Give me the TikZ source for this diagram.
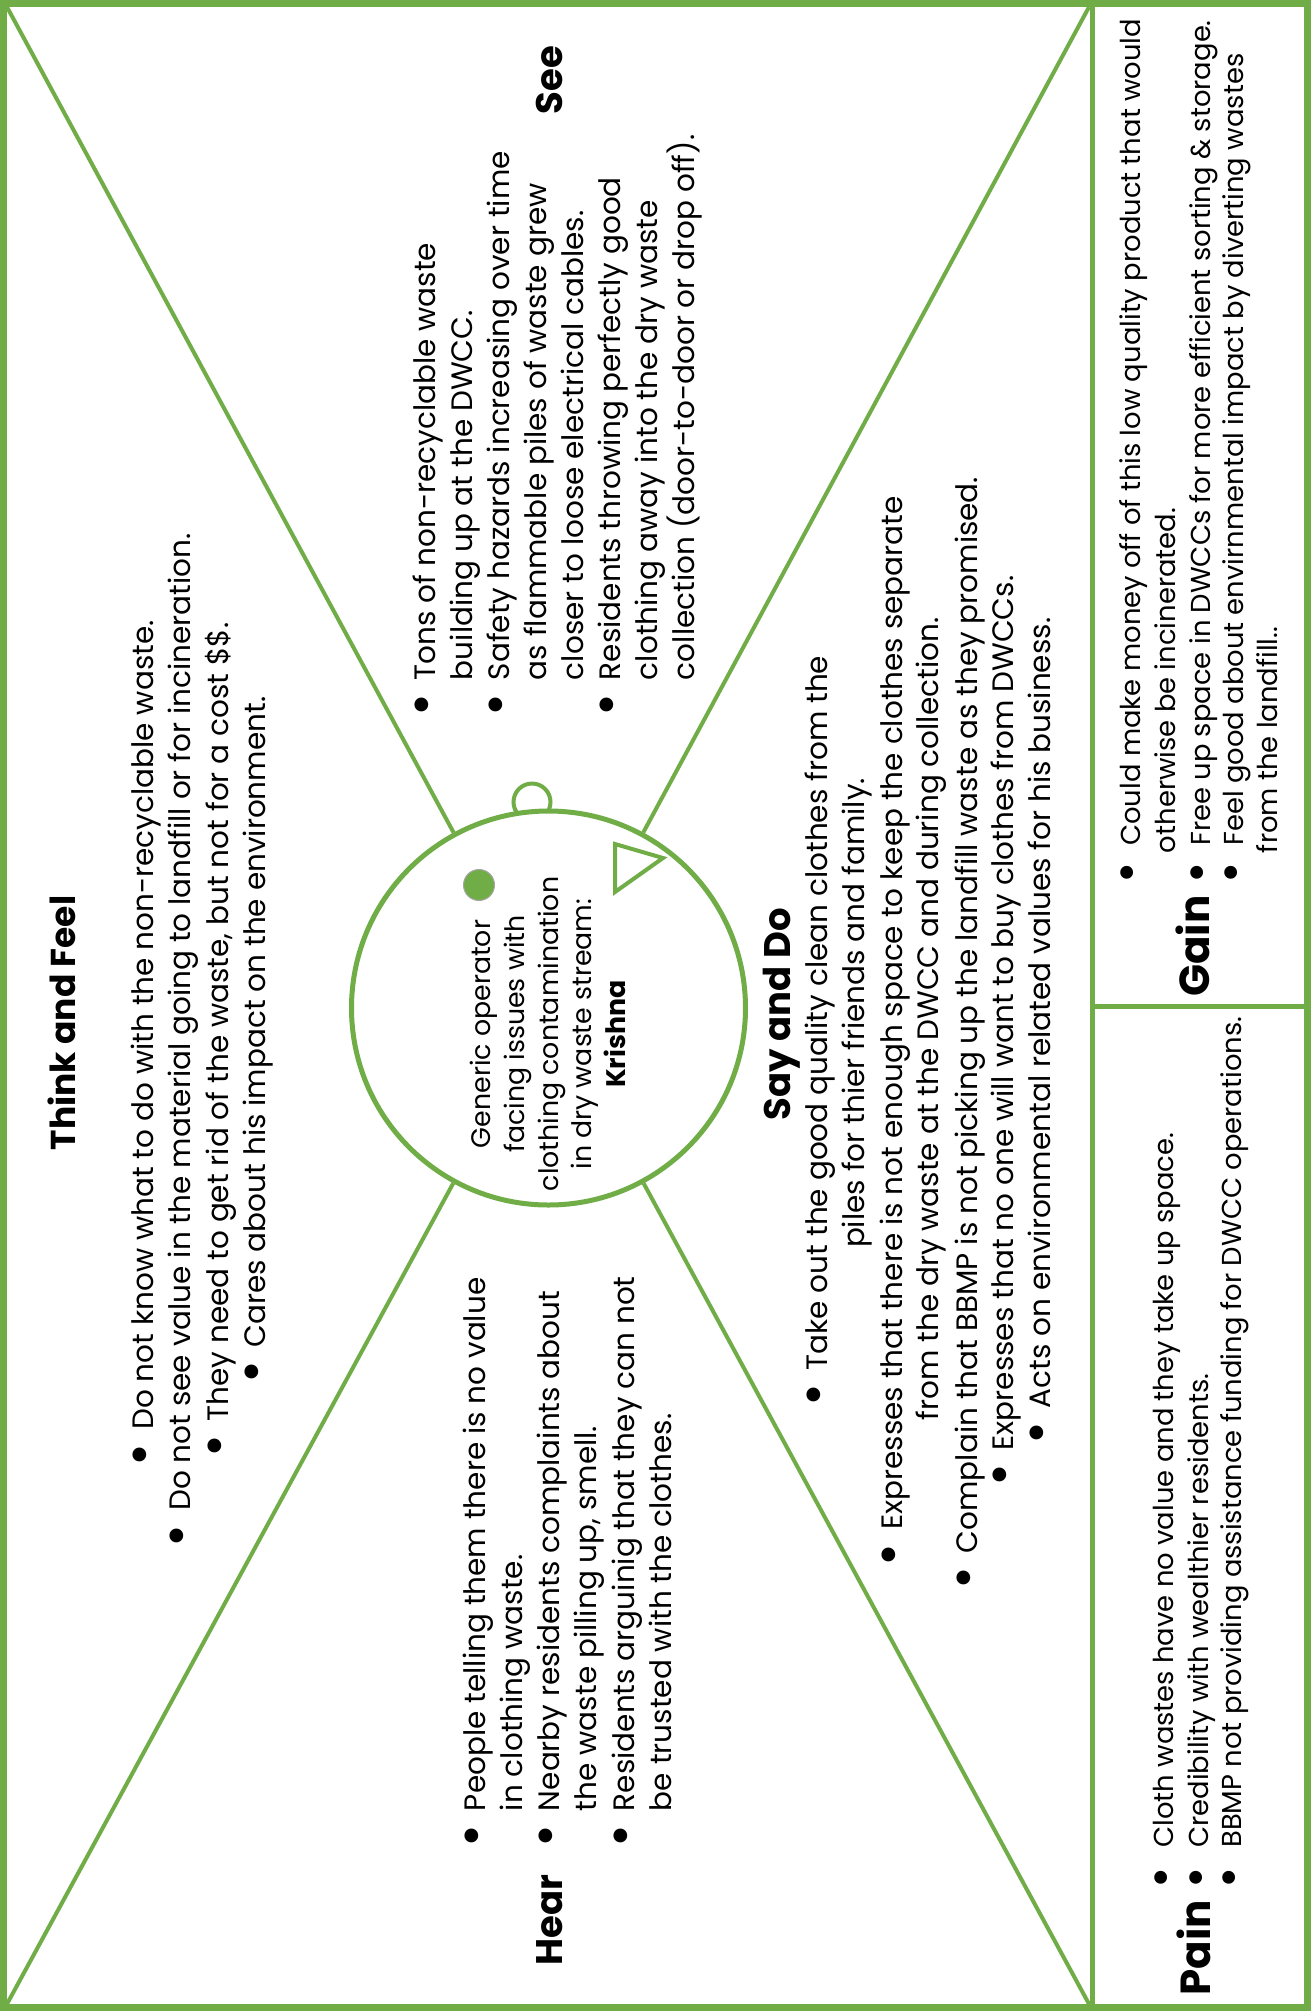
\documentclass[tikz,border=0pt]{standalone}
\usepackage{fontspec}
\setmainfont{Poppins}
\usepackage{graphicx}
\definecolor{eg}{HTML}{70AD47}
\newcommand\bul[1][25pt]{\llap{\makebox[0pt][c]{\raisebox{-0.176em}{\scalebox{1.9}{\textbullet}}}\hspace{#1}}}
\tikzset{
  ln/.style={rotate=90, inner sep=0pt, outer sep=0pt, font=\fontsize{29.5}{35}\selectfont, anchor=base west},
  cl/.style={ln, anchor=base},
  sm/.style={ln, font=\fontsize{27.4}{33}\selectfont},
  ctr/.style={cl, font=\fontsize{26.8}{32}\selectfont},
  hd/.style={rotate=90, inner sep=0pt, outer sep=0pt, anchor=base, font=\fontsize{37}{44}\selectfont\bfseries},
  gp/.style={hd, font=\fontsize{42}{50}\selectfont\bfseries},
  frame/.style={draw=eg, line width=7pt},
  divider/.style={draw=eg, line width=5pt},
  diag/.style={draw=eg, line width=4pt},
}
\begin{document}
\begin{tikzpicture}[x=1pt, y=-1pt]
\useasboundingbox (0,0) rectangle (1311,2011);
\fill[white] (0,0) rectangle (1311,2011);
% corners
\coordinate (tl) at (7,7);
\coordinate (tr) at (1089,7);
\coordinate (bl) at (7,2004);
\coordinate (br) at (1089,2004);
% ear
\node[circle, draw=eg, line width=4pt, minimum size=37pt, inner sep=0pt] (ear) at (532,802) {};
% head
\node[circle, draw=eg, fill=white, line width=5pt, minimum size=394pt, inner sep=0pt] (head) at (548.5,1008) {};
\draw[diag] (tl) -- (head);
\draw[diag] (tr) -- (head);
\draw[diag] (bl) -- (head);
\draw[diag] (br) -- (head);
% nose and eye
\draw[eg, line width=4pt, line join=miter] (615,844) -- (663,858) -- (615,892) -- cycle;
\node[circle, fill=eg, draw=gray!70, line width=1pt, minimum size=31pt, inner sep=0pt] (eye) at (479,885) {};
% frame and dividers
\draw[frame] (3.5,3.5) rectangle (1307.5,2007.5);
\coordinate (dtop) at (1092,0);
\coordinate (dbot) at (1092,2011);
\coordinate (hl) at (1092,1006);
\coordinate (hr) at (1311,1006);
\draw[divider] (dtop) -- (dbot);
\draw[divider] (hl) -- (hr);
% center text
\node[ctr] (c1) at (490,1034) {Generic operator};
\node[ctr] (c2) at (524,1034) {facing issues with};
\node[ctr] (c3) at (558,1034) {clothing contamination};
\node[ctr] (c4) at (591.5,1034) {in dry waste stream:};
\node[ctr, font=\fontsize{26.8}{32}\selectfont\bfseries] (c5) at (625,1034) {Krishna};
% Think and Feel
\node[hd, font=\fontsize{34.5}{42}\selectfont\bfseries] (tf0) at (75,1023) {Think and Feel};
\node[cl] (tf1) at (153,1025) {\bul Do not know what to do with the non-recyclable waste.};
\node[cl] (tf2) at (190,1022) {\bul Do not see value in the material going to landfill or for incineration.};
\node[cl] (tf3) at (228,1022) {\bul They need to get rid of the waste, but not for a cost \$\$.};
\node[cl] (tf4) at (265,1022) {\bul Cares about his impact on the environment.};
% See
\node[hd] (see0) at (562,80) {See};
\node[ln] (s1) at (435,680) {\bul Tons of non-recyclable waste};
\node[ln] (s2) at (472,680) {building up at the DWCC.};
\node[ln] (s3) at (509,680) {\bul Safety hazards increasing over time};
\node[ln] (s4) at (546,680) {as flammable piles of waste grew};
\node[ln] (s5) at (583,680) {closer to loose electrical cables.};
\node[ln] (s6) at (620,680) {\bul Residents throwing perfectly good};
\node[ln] (s7) at (657,680) {clothing away into the dry waste};
\node[ln] (s8) at (694,680) {collection (door-to-door or drop off).};
% Hear
\node[hd] (h0) at (562,1920) {Hear};
\node[ln] (h1) at (485,1811) {\bul People telling them there is no value};
\node[ln] (h2) at (522,1811) {in clothing waste.};
\node[ln] (h3) at (559,1811) {\bul Nearby residents complaints about};
\node[ln] (h4) at (596.5,1811) {the waste pilling up, smell.};
\node[ln] (h5) at (634,1811) {\bul Residents arguinig that they can not};
\node[ln] (h6) at (671,1811) {be trusted with the clothes.};
% Say and Do
\node[hd] (sd0) at (790,1014) {Say and Do};
\node[cl] (sd1) at (827,1013) {\bul Take out the good quality clean clothes from the};
\node[cl] (sd2) at (864,1013) {piles for thier friends and family.};
\node[cl] (sd3) at (902,1013) {\bul Expresses that there is not enough space to keep the clothes separate};
\node[cl] (sd4) at (938,1019) {from the dry waste at the DWCC and during collection.};
\node[cl] (sd5) at (977,1015) {\bul Complain that BBMP is not picking up the landfill waste as they promised.};
\node[cl] (sd6) at (1013,1013) {\bul Expresses that no one will want to buy clothes from DWCCs.};
\node[cl] (sd7) at (1050,1013) {\bul Acts on environmental related values for his business.};
% Gain
\node[gp] (g0) at (1209,946) {Gain};
\node[sm] (g1) at (1140,853) {\bul[20pt] Could make money off of this low quality product that would};
\node[sm] (g2) at (1175,853) {otherwise be incinerated.};
\node[sm] (g3) at (1210,853) {\bul[20pt] Free up space in DWCCs for more efficient sorting \& storage.};
\node[sm] (g4) at (1243.5,853) {\bul[20pt] Feel good about envirnmental impact by diverting wastes};
\node[sm] (g5) at (1277,853) {from the landfill..};
% Pain
\node[gp] (p0) at (1210,1947.5) {Pain};
\node[sm] (p1) at (1173.3,1855) {\bul[23pt] Cloth wastes have no value and they take up space.};
\node[sm] (p2) at (1208.3,1855) {\bul[23pt] Credibility with wealthier residents.};
\node[sm] (p3) at (1241.7,1855) {\bul[23pt] BBMP not providing assistance funding for DWCC operations.};
\end{tikzpicture}
\end{document}
